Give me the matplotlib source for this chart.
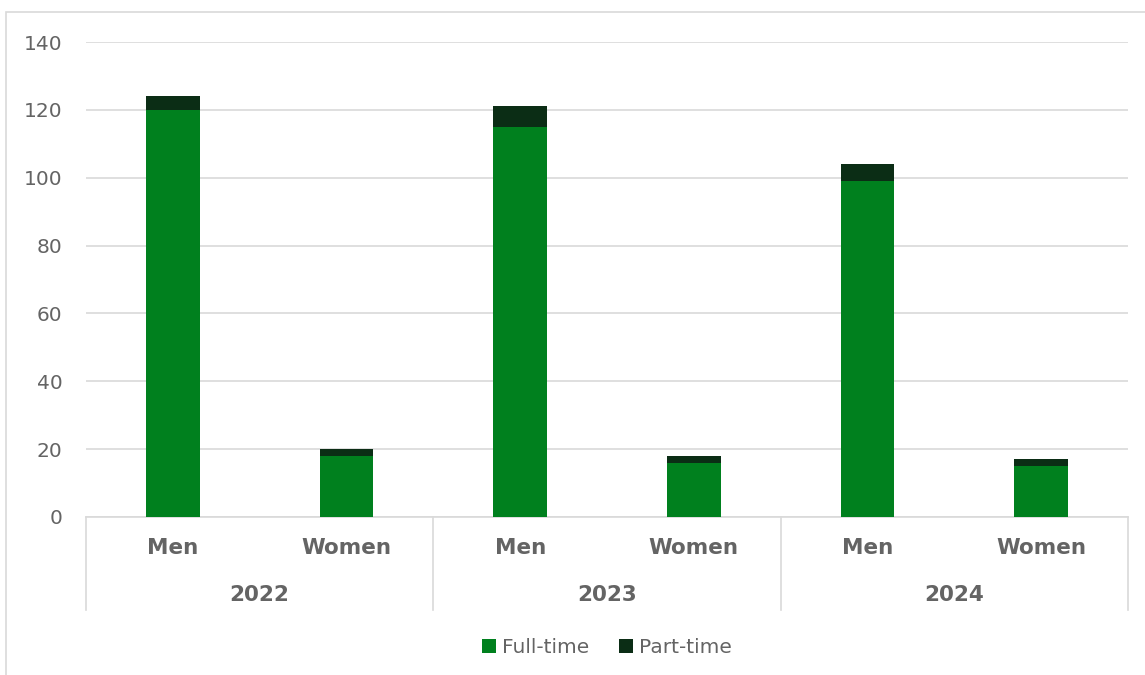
import numpy as np
import matplotlib.pyplot as plt
from matplotlib.patches import Rectangle

years = ['2022', '2023', '2024']
genders = ['Men', 'Women']
full_time = [120, 18, 115, 16, 99, 15]
part_time = [4, 2, 6, 2, 5, 2]

green = '#00801e'
dark = '#0b2d15'
txt = '#646464'
grid = '#d9d9d9'

fig = plt.figure(figsize=(11.45, 6.75), dpi=100)
ax = fig.add_axes([86/1145, 1-517/675, (1128-86)/1145, (517-42)/675])

x = np.arange(len(full_time))
ax.bar(x, full_time, width=0.31, color=green, label='Full-time', zorder=3)
ax.bar(x, part_time, width=0.31, bottom=full_time, color=dark, label='Part-time', zorder=3)

ax.set_xlim(-0.5, len(full_time) - 0.5)
ax.set_ylim(0, 140)
ax.set_yticks(range(0, 141, 20))
ax.yaxis.grid(True, color=grid, lw=1.2, zorder=0)
ax.tick_params(axis='y', length=0, labelsize=14.5, labelcolor=txt, pad=17)
ax.set_xticks([])
for s in ['top', 'right', 'left']:
    ax.spines[s].set_visible(False)
ax.spines['bottom'].set_color(grid)
ax.spines['bottom'].set_linewidth(1.2)

# two-level category axis
trans = ax.get_xaxis_transform()
for i in range(len(full_time)):
    ax.text(i, -0.065, genders[i % 2], transform=trans, ha='center', va='center',
            fontsize=15.5, fontweight='bold', color=txt)
for j, yr in enumerate(years):
    ax.text(2 * j + 0.5, -0.165, yr, transform=trans, ha='center', va='center',
            fontsize=15.5, fontweight='bold', color=txt)
for b in [-0.5, 1.5, 3.5, 5.5]:
    ax.plot([b, b], [0, -0.195], transform=trans, color=grid, lw=1.2, clip_on=False)

leg = ax.legend(loc='center', bbox_to_anchor=(0.5, -0.275), ncol=2, frameon=False,
                fontsize=14.5, handlelength=0.7, handleheight=0.7, handletextpad=0.3,
                columnspacing=1.5)
for t in leg.get_texts():
    t.set_color(txt)

fig.patches.append(Rectangle((6/1145, -0.1), 1.2, 1.1-12/675, transform=fig.transFigure,
                             fill=False, edgecolor='#d9d9d9', lw=1.2))

fig.savefig('out.png', dpi=100)
